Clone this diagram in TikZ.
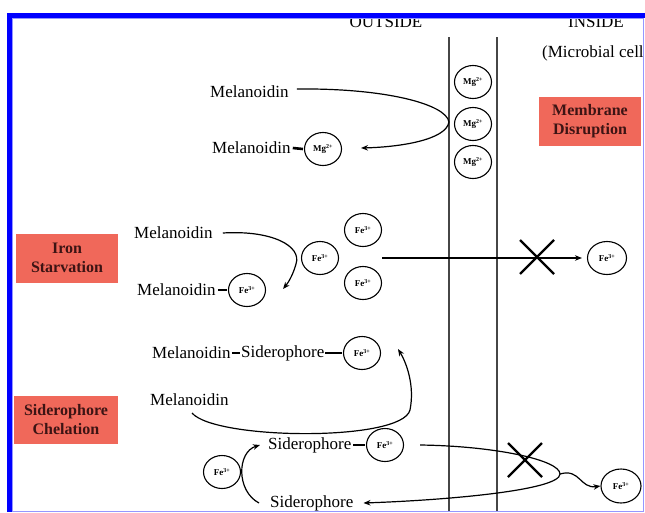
\documentclass[tikz,border=0pt]{standalone}
\usepackage{fontspec}
\setmainfont{Liberation Serif}
\usetikzlibrary{arrows.meta,shapes.geometric}
\definecolor{boxred}{RGB}{240,104,90}
\definecolor{boxtext}{RGB}{60,20,20}
\definecolor{framebl}{RGB}{0,0,255}
\definecolor{framelt}{RGB}{150,150,255}
\definecolor{memb}{RGB}{70,70,70}
\begin{document}
\begin{tikzpicture}[x=1pt,y=-1pt,
  lbl/.style={inner sep=0pt, anchor=west, font=\fontsize{17}{20}\selectfont},
  ion/.style={ellipse, draw, line width=1.1pt, minimum width=37pt, minimum height=33pt, inner sep=0pt, font=\fontsize{9}{10}\selectfont\bfseries},
  mech/.style={fill=boxred, text=boxtext, font=\fontsize{16}{19}\selectfont\bfseries, align=center, minimum width=102pt, minimum height=49pt, inner sep=0pt},
  conn/.style={line width=1.2pt, -{Stealth[length=7pt,width=5.5pt]}},
  bond/.style={line width=2.6pt},
  crossline/.style={line width=2.4pt},
  membline/.style={line width=1.2pt, draw=memb}]
\useasboundingbox (0,0) rectangle (645,512);
\fill[white] (0,0) rectangle (645,512);

% membrane
\coordinate (m1t) at (449,37); \coordinate (m1b) at (449,512);
\coordinate (m2t) at (497,37); \coordinate (m2b) at (497,512);
\draw[membline] (m1t) -- (m1b);
\draw[membline] (m2t) -- (m2b);

% headings
\node[lbl, anchor=base] (outside) at (386,27) {OUTSIDE};
\node[lbl, anchor=base] (inside) at (596,27) {INSIDE};
\node[lbl] (micro) at (542,53) {(Microbial cell};

% mechanism boxes
\node[mech] (membrane) at (590,121) {Membrane\\Disruption};
\node[mech] (ironstarv) at (67,258) {Iron\\Starvation};
\node[mech, minimum width=104pt, minimum height=48pt] (sidchel) at (66,420) {Siderophore\\Chelation};

% Mg section
\node[lbl] (mel1) at (210,92) {Melanoidin};
\node[lbl] (mel2) at (212,148) {Melanoidin};
\node[ion] (mgb) at (323,149) {Mg\textsuperscript{2+}};
\node[ion] (mg1) at (473,82) {Mg\textsuperscript{2+}};
\node[ion] (mg2) at (473,124) {Mg\textsuperscript{2+}};
\node[ion] (mg3) at (473,162) {Mg\textsuperscript{2+}};
\draw[bond] ([xshift=2pt]mel2.east) -- ([xshift=-1pt]mgb.west);
\coordinate (mgv) at (449,122);
\coordinate (mgend) at (361,148);
\draw[conn] ([xshift=8pt,yshift=3pt]mel1.east) .. controls (385,88) and (446,104) .. (mgv) .. controls (446,140) and (400,147) .. (mgend);

% Iron section
\node[lbl] (mel3) at (134,233) {Melanoidin};
\node[lbl] (mel4) at (137,290) {Melanoidin};
\node[ion] (feb) at (247,290) {Fe\textsuperscript{3+}};
\node[ion] (fem) at (320,258) {Fe\textsuperscript{3+}};
\node[ion] (fet) at (363,230) {Fe\textsuperscript{3+}};
\node[ion] (febt) at (363,283) {Fe\textsuperscript{3+}};
\node[ion, minimum width=39pt] (fein) at (607,258) {Fe\textsuperscript{3+}};
\draw[bond] ([xshift=2pt]mel4.east) -- ([xshift=-1pt]feb.west);
\coordinate (ironend) at (283,289);
\draw[conn] ([xshift=10pt]mel3.east) .. controls (272,230) and (302,246) .. (296,264) .. controls (293,275) and (288,283) .. (ironend);
\coordinate (hstart) at (382,258);
\draw[conn] (hstart) -- ([xshift=-5pt]fein.west);
\coordinate (x1) at (537,257);
\draw[crossline] (x1) ++(-17,-17) -- ++(34,34);
\draw[crossline] (x1) ++(17,-17) -- ++(-34,34);

% Siderophore section
\node[lbl] (msfm) at (152,353) {Melanoidin};
\node[lbl] (msfs) at (241,353) {Siderophore};
\node[ion] (fes) at (362,353) {Fe\textsuperscript{3+}};
\draw[bond] ([xshift=1pt]msfm.east) -- ([xshift=-1pt]msfs.west);
\draw[bond] ([xshift=1pt]msfs.east) -- ([xshift=-1pt]fes.west);
\node[lbl] (mel5) at (150,400) {Melanoidin};
\coordinate (sstart) at (192,413);
\coordinate (send) at (398,349);
\draw[conn] (sstart) .. controls (215,440) and (402,442) .. (410,410) .. controls (415,385) and (406,362) .. (send);

\node[lbl] (sidu) at (268,445) {Siderophore};
\node[ion] (feu) at (385,445) {Fe\textsuperscript{3+}};
\draw[bond] ([xshift=2pt]sidu.east) -- ([xshift=-1pt]feu.west);
\node[ion] (fel) at (222,472) {Fe\textsuperscript{3+}};
\node[lbl] (sidl) at (270,503) {Siderophore};
\draw[conn] ([xshift=-11pt]sidl.west) .. controls (236,491) and (237,452) .. ([xshift=-8pt]sidu.west);

\coordinate (lv) at (560,474);
\draw[conn] ([xshift=16pt]feu.east) .. controls (495,446) and (560,460) .. (lv) .. controls (560,490) and (450,500) .. ([xshift=10pt]sidl.east);
\node[ion, minimum width=40pt, minimum height=34pt] (fer) at (621,486) {Fe\textsuperscript{3+}};
\draw[conn] (lv) .. controls (580,468) and (580,489) .. (fer.west);
\coordinate (x2) at (525,460);
\draw[crossline] (x2) ++(-17,-17) -- ++(34,34);
\draw[crossline] (x2) ++(17,-17) -- ++(-34,34);

% frame
\draw[framelt, line width=1pt] (12.5,18.5) -- (643.5,18.5) -- (643.5,511.5) -- (12.5,511.5) -- cycle;
\fill[framebl] (7,13) rectangle (12,512);
\fill[framebl] (7,13) rectangle (645,18);
\end{tikzpicture}
\end{document}
